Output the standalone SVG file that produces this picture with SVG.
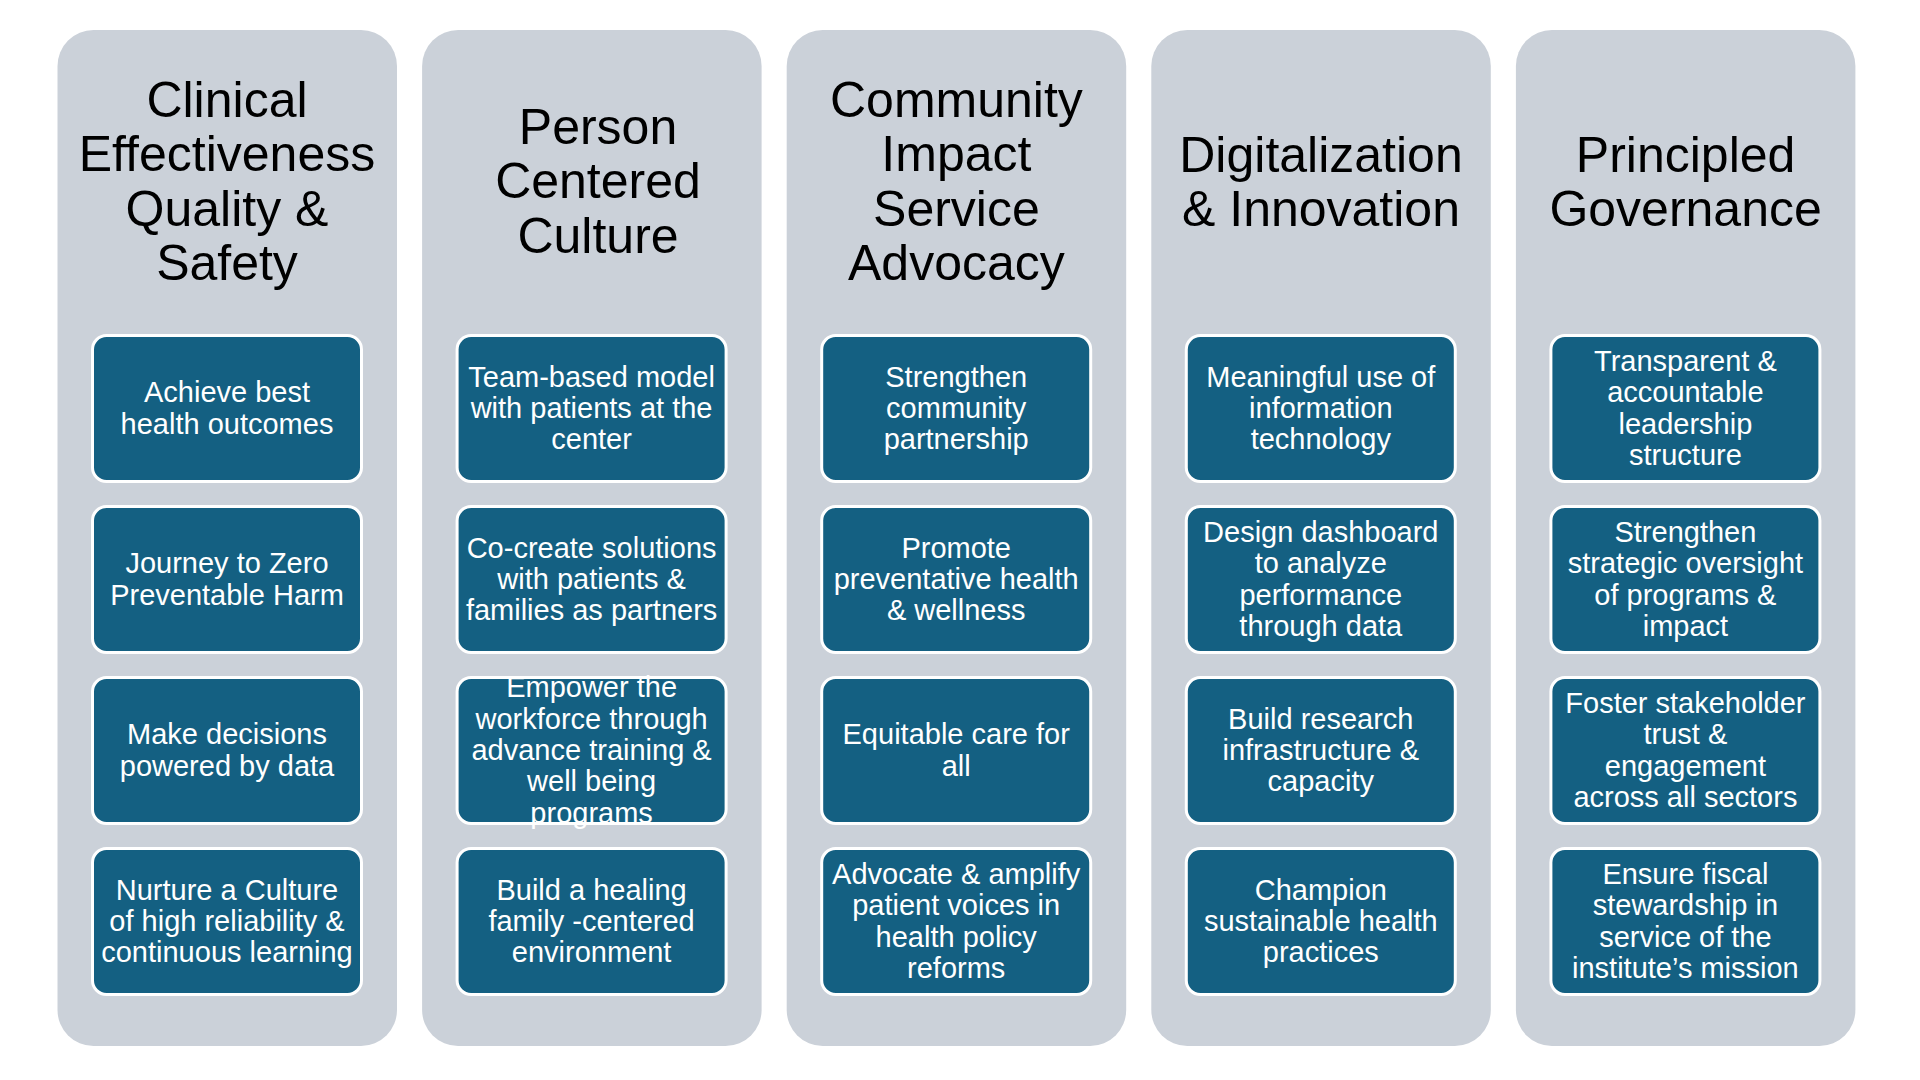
<svg xmlns="http://www.w3.org/2000/svg" width="1920" height="1080" viewBox="0 0 1920 1080">
<style>
.col{fill:#CBD1D9;}
.box{fill:#146082;stroke:#FFFFFF;stroke-width:3;}
.title{font-family:"Liberation Sans",Arial,sans-serif;font-size:50px;fill:#000000;text-anchor:middle;}
.lbl{font-family:"Liberation Sans",Arial,sans-serif;font-size:29px;fill:#FFFFFF;text-anchor:middle;}
</style>
<rect x="0" y="0" width="1920" height="1080" fill="#FFFFFF"/>

<g id="col1">
<rect class="col" x="57.5" y="30" width="339.5" height="1016" rx="36"/>
<text class="title"><tspan x="227" y="116.5">Clinical</tspan><tspan x="227" y="171">Effectiveness</tspan><tspan x="227" y="225.5">Quality &amp;</tspan><tspan x="227" y="280">Safety</tspan></text>
</g>
<g id="col1-box1"><rect class="box" x="92.5" y="335.5" width="269" height="146" rx="14"/>
<text class="lbl"><tspan x="227" y="402.4">Achieve best</tspan><tspan x="227" y="433.7">health outcomes</tspan></text></g>
<g id="col1-box2"><rect class="box" x="92.5" y="506.5" width="269" height="146" rx="14"/>
<text class="lbl"><tspan x="227" y="573.4">Journey to Zero</tspan><tspan x="227" y="604.7">Preventable Harm</tspan></text></g>
<g id="col1-box3"><rect class="box" x="92.5" y="677.5" width="269" height="146" rx="14"/>
<text class="lbl"><tspan x="227" y="744.4">Make decisions</tspan><tspan x="227" y="775.7">powered by data</tspan></text></g>
<g id="col1-box4"><rect class="box" x="92.5" y="848.5" width="269" height="146" rx="14"/>
<text class="lbl"><tspan x="227" y="899.7">Nurture a Culture</tspan><tspan x="227" y="931">of high reliability &amp;</tspan><tspan x="227" y="962.3">continuous learning</tspan></text></g>

<g id="col2">
<rect class="col" x="422.1" y="30" width="339.5" height="1016" rx="36"/>
<text class="title"><tspan x="598" y="143.5">Person</tspan><tspan x="598" y="198">Centered</tspan><tspan x="598" y="252.5">Culture</tspan></text>
</g>
<g id="col2-box1"><rect class="box" x="457.1" y="335.5" width="269" height="146" rx="14"/>
<text class="lbl"><tspan x="591.6" y="386.7">Team-based model</tspan><tspan x="591.6" y="418">with patients at the</tspan><tspan x="591.6" y="449.3">center</tspan></text></g>
<g id="col2-box2"><rect class="box" x="457.1" y="506.5" width="269" height="146" rx="14"/>
<text class="lbl"><tspan x="591.6" y="557.7">Co-create solutions</tspan><tspan x="591.6" y="589">with patients &amp;</tspan><tspan x="591.6" y="620.3">families as partners</tspan></text></g>
<g id="col2-box3"><rect class="box" x="457.1" y="677.5" width="269" height="146" rx="14"/>
<text class="lbl"><tspan x="591.6" y="697.4">Empower the</tspan><tspan x="591.6" y="728.7">workforce through</tspan><tspan x="591.6" y="760">advance training &amp;</tspan><tspan x="591.6" y="791.3">well being</tspan><tspan x="591.6" y="822.6">programs</tspan></text></g>
<g id="col2-box4"><rect class="box" x="457.1" y="848.5" width="269" height="146" rx="14"/>
<text class="lbl"><tspan x="591.6" y="899.7">Build a healing</tspan><tspan x="591.6" y="931">family -centered</tspan><tspan x="591.6" y="962.3">environment</tspan></text></g>

<g id="col3">
<rect class="col" x="786.7" y="30" width="339.5" height="1016" rx="36"/>
<text class="title"><tspan x="956.4" y="116.5">Community</tspan><tspan x="956.4" y="171">Impact</tspan><tspan x="956.4" y="225.5">Service</tspan><tspan x="956.4" y="280">Advocacy</tspan></text>
</g>
<g id="col3-box1"><rect class="box" x="821.7" y="335.5" width="269" height="146" rx="14"/>
<text class="lbl"><tspan x="956.2" y="386.7">Strengthen</tspan><tspan x="956.2" y="418">community</tspan><tspan x="956.2" y="449.3">partnership</tspan></text></g>
<g id="col3-box2"><rect class="box" x="821.7" y="506.5" width="269" height="146" rx="14"/>
<text class="lbl"><tspan x="956.2" y="557.7">Promote</tspan><tspan x="956.2" y="589">preventative health</tspan><tspan x="956.2" y="620.3">&amp; wellness</tspan></text></g>
<g id="col3-box3"><rect class="box" x="821.7" y="677.5" width="269" height="146" rx="14"/>
<text class="lbl"><tspan x="956.2" y="744.4">Equitable care for</tspan><tspan x="956.2" y="775.7">all</tspan></text></g>
<g id="col3-box4"><rect class="box" x="821.7" y="848.5" width="269" height="146" rx="14"/>
<text class="lbl"><tspan x="956.2" y="884">Advocate &amp; amplify</tspan><tspan x="956.2" y="915.3">patient voices in</tspan><tspan x="956.2" y="946.6">health policy</tspan><tspan x="956.2" y="977.9">reforms</tspan></text></g>

<g id="col4">
<rect class="col" x="1151.3" y="30" width="339.5" height="1016" rx="36"/>
<text class="title"><tspan x="1321" y="171.5">Digitalization</tspan><tspan x="1321" y="226">&amp; Innovation</tspan></text>
</g>
<g id="col4-box1"><rect class="box" x="1186.3" y="335.5" width="269" height="146" rx="14"/>
<text class="lbl"><tspan x="1320.8" y="386.7">Meaningful use of</tspan><tspan x="1320.8" y="418">information</tspan><tspan x="1320.8" y="449.3">technology</tspan></text></g>
<g id="col4-box2"><rect class="box" x="1186.3" y="506.5" width="269" height="146" rx="14"/>
<text class="lbl"><tspan x="1320.8" y="542">Design dashboard</tspan><tspan x="1320.8" y="573.3">to analyze</tspan><tspan x="1320.8" y="604.6">performance</tspan><tspan x="1320.8" y="635.9">through data</tspan></text></g>
<g id="col4-box3"><rect class="box" x="1186.3" y="677.5" width="269" height="146" rx="14"/>
<text class="lbl"><tspan x="1320.8" y="728.7">Build research</tspan><tspan x="1320.8" y="760">infrastructure &amp;</tspan><tspan x="1320.8" y="791.3">capacity</tspan></text></g>
<g id="col4-box4"><rect class="box" x="1186.3" y="848.5" width="269" height="146" rx="14"/>
<text class="lbl"><tspan x="1320.8" y="899.7">Champion</tspan><tspan x="1320.8" y="931">sustainable health</tspan><tspan x="1320.8" y="962.3">practices</tspan></text></g>

<g id="col5">
<rect class="col" x="1515.9" y="30" width="339.5" height="1016" rx="36"/>
<text class="title"><tspan x="1685.6" y="171.5">Principled</tspan><tspan x="1685.6" y="226">Governance</tspan></text>
</g>
<g id="col5-box1"><rect class="box" x="1550.9" y="335.5" width="269" height="146" rx="14"/>
<text class="lbl"><tspan x="1685.4" y="371">Transparent &amp;</tspan><tspan x="1685.4" y="402.3">accountable</tspan><tspan x="1685.4" y="433.6">leadership</tspan><tspan x="1685.4" y="464.9">structure</tspan></text></g>
<g id="col5-box2"><rect class="box" x="1550.9" y="506.5" width="269" height="146" rx="14"/>
<text class="lbl"><tspan x="1685.4" y="542">Strengthen</tspan><tspan x="1685.4" y="573.3">strategic oversight</tspan><tspan x="1685.4" y="604.6">of programs &amp;</tspan><tspan x="1685.4" y="635.9">impact</tspan></text></g>
<g id="col5-box3"><rect class="box" x="1550.9" y="677.5" width="269" height="146" rx="14"/>
<text class="lbl"><tspan x="1685.4" y="713">Foster stakeholder</tspan><tspan x="1685.4" y="744.3">trust &amp;</tspan><tspan x="1685.4" y="775.6">engagement</tspan><tspan x="1685.4" y="806.9">across all sectors</tspan></text></g>
<g id="col5-box4"><rect class="box" x="1550.9" y="848.5" width="269" height="146" rx="14"/>
<text class="lbl"><tspan x="1685.4" y="884">Ensure fiscal</tspan><tspan x="1685.4" y="915.3">stewardship in</tspan><tspan x="1685.4" y="946.6">service of the</tspan><tspan x="1685.4" y="977.9">institute’s mission</tspan></text></g>

<g id="connectors"></g>
</svg>
